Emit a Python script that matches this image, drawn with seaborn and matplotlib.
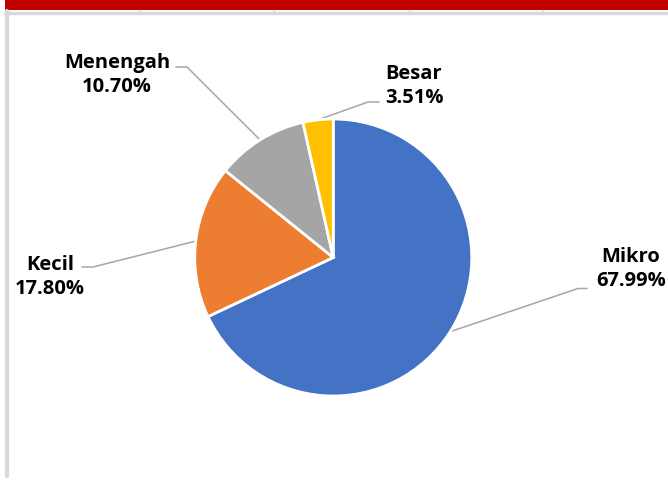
import numpy as np
import matplotlib
matplotlib.use("Agg")
import matplotlib.pyplot as plt
import seaborn as sns
from matplotlib.patches import Rectangle
from matplotlib.lines import Line2D

sns.set_theme(style="white")
plt.rcParams['font.family'] = ['Open Sans', 'DejaVu Sans']

categories = ["Mikro", "Kecil", "Menengah", "Besar"]
values = [67.99, 17.80, 10.70, 3.51]
value_labels = ["67.99%", "17.80%", "10.70%", "3.51%"]
colors = ["#4472C4", "#ED7D31", "#A5A5A5", "#FFC000"]

W, H = 668, 481
fig = plt.figure(figsize=(W / 100, H / 100), dpi=100)
fig.patch.set_facecolor("white")

def fx(px): return px / W
def fy(py): return 1 - py / H

fig.patches.append(Rectangle((fx(5), fy(11)), 1 - fx(5), 11 / H, transform=fig.transFigure,
                             facecolor="#C00000", edgecolor="none", zorder=0))
fig.lines.append(Line2D([fx(5), 1], [fy(13.5), fy(13.5)], transform=fig.transFigure,
                        color="#D9D9D9", lw=2.5))
for tx in [140, 274, 409, 543]:
    fig.lines.append(Line2D([fx(tx), fx(tx)], [fy(11), fy(13.5)], transform=fig.transFigure,
                            color="#D9D9D9", lw=1))
fig.lines.append(Line2D([fx(6.5), fx(6.5)], [fy(12), fy(477)], transform=fig.transFigure,
                        color="#D9D9D9", lw=3))

cx, cy, r = 333.25, 258.5, 138.5
ax = fig.add_axes([fx(cx - r), fy(cy + r), 2 * r / W, 2 * r / H])
wedges, _ = ax.pie(values, colors=colors, startangle=90, counterclock=False,
                   radius=1, wedgeprops=dict(edgecolor="white", linewidth=2))
ax.set_xlim(-1, 1)
ax.set_ylim(-1, 1)
ax.set_aspect("equal")
ax.axis("off")

def d(px, py):
    return (px - cx) / r, (cy - py) / r

layout = {
    "Mikro": ((631, 269), (578, 289.5), (587, 289.5)),
    "Kecil": ((50, 277), (93, 268), (82, 268)),
    "Menengah": ((117, 75), (187, 68), (176, 68)),
    "Besar": ((414, 86), (368, 103), (379, 103)),
}

for w, cat, lab in zip(wedges, categories, value_labels):
    th = np.deg2rad((w.theta1 + w.theta2) / 2)
    ex, ey = np.cos(th), np.sin(th)
    (lx, ly), elb, end = layout[cat]
    bx, by = d(*elb)
    nx, ny = d(*end)
    ax.plot([ex, bx, nx], [ey, by, ny], color="#A6A6A6", lw=1.1, clip_on=False, zorder=0)
    tx, ty = d(lx, ly)
    ax.text(tx, ty, f"{cat}\n{lab}", ha="center", va="center", fontsize=14.5,
            fontweight="bold", color="#000000", linespacing=1.3, clip_on=False)

fig.savefig("out.png", dpi=100, facecolor="white")
